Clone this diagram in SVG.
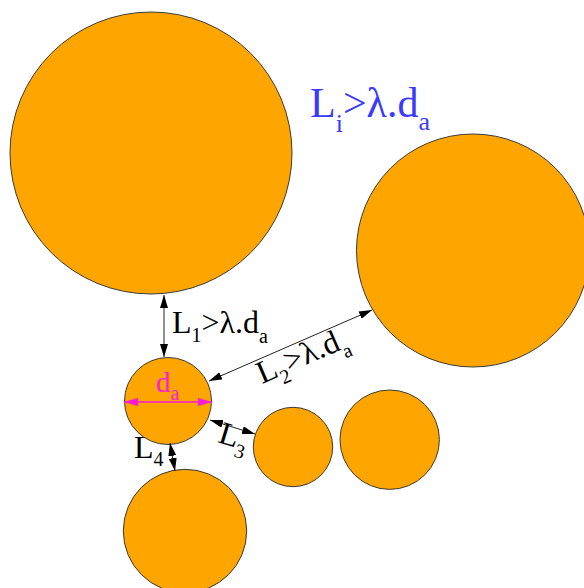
<svg xmlns="http://www.w3.org/2000/svg" width="584" height="588" viewBox="0 0 584 588">
<style>
.c{fill:#ffa500;stroke:#3a3a3a;stroke-width:1}
.dim{stroke:#222;stroke-width:1;fill:none;marker-start:url(#ah);marker-end:url(#ah)}
.mag{stroke:#ff1ad9;stroke-width:1.5;fill:none;marker-start:url(#am);marker-end:url(#am)}
</style>
<defs>
<marker id="ah" viewBox="0 0 13 8" refX="13" refY="4" markerWidth="13" markerHeight="8" markerUnits="userSpaceOnUse" orient="auto-start-reverse">
<path d="M0,0 L13,4 L0,8 Z" fill="#000"/>
</marker>
<marker id="am" viewBox="0 0 14 8" refX="14" refY="4" markerWidth="14" markerHeight="8" markerUnits="userSpaceOnUse" orient="auto-start-reverse">
<path d="M0,0 L14,4 L0,8 Z" fill="#ff1ad9"/>
</marker>
</defs>
<rect width="584" height="588" fill="#fff"/>
<g id="circle-big"><circle class="c" cx="151" cy="153" r="141"/></g>
<g id="circle-right"><circle class="c" cx="473" cy="250.5" r="116.5"/></g>
<g id="circle-da"><circle class="c" cx="168" cy="401" r="43.5"/></g>
<g id="circle-l3"><circle class="c" cx="293" cy="447" r="39.7"/></g>
<g id="circle-mid"><circle class="c" cx="389.7" cy="439.7" r="49.7"/></g>
<g id="circle-bottom"><circle class="c" cx="185" cy="531" r="61.7"/></g>
<g id="connectors">
<line class="dim" x1="164" y1="295" x2="164" y2="357"/>
<line class="dim" x1="209" y1="381" x2="372" y2="310"/>
<line class="dim" x1="210" y1="420" x2="255" y2="434"/>
<line class="dim" x1="170" y1="443" x2="175" y2="471"/>
<line class="mag" x1="124" y1="402" x2="212" y2="402"/>
</g>
<g id="labels">
<text x="310" y="117" font-size="42" style="font-family:'Liberation Serif',serif;fill:#3a3aff">L<tspan font-size="26" dy="15">i</tspan><tspan dy="-15">&gt;λ.d</tspan><tspan font-size="26" dy="13">a</tspan></text>
<text x="172" y="333" font-size="32" style="font-family:'Liberation Serif',serif;fill:#000">L<tspan font-size="20" dy="9">1</tspan><tspan dy="-9">&gt;λ.d</tspan><tspan font-size="20" dy="10">a</tspan></text>
<text x="262" y="384" font-size="32" transform="rotate(-23.5 262 384)" style="font-family:'Liberation Serif',serif;fill:#000">L<tspan font-size="20" dy="9">2</tspan><tspan dy="-9">&gt;λ.d</tspan><tspan font-size="20" dy="10">a</tspan></text>
<text x="217" y="442" font-size="32" transform="rotate(17 217 442)" style="font-family:'Liberation Serif',serif;fill:#000">L<tspan font-size="20" dy="9">3</tspan></text>
<text x="134" y="458" font-size="32" style="font-family:'Liberation Serif',serif;fill:#000">L<tspan font-size="20" dy="8">4</tspan></text>
<text x="156" y="392" font-size="29" style="font-family:'Liberation Serif',serif;fill:#ff1ad9">d<tspan font-size="20" dy="8">a</tspan></text>
</g>
</svg>
